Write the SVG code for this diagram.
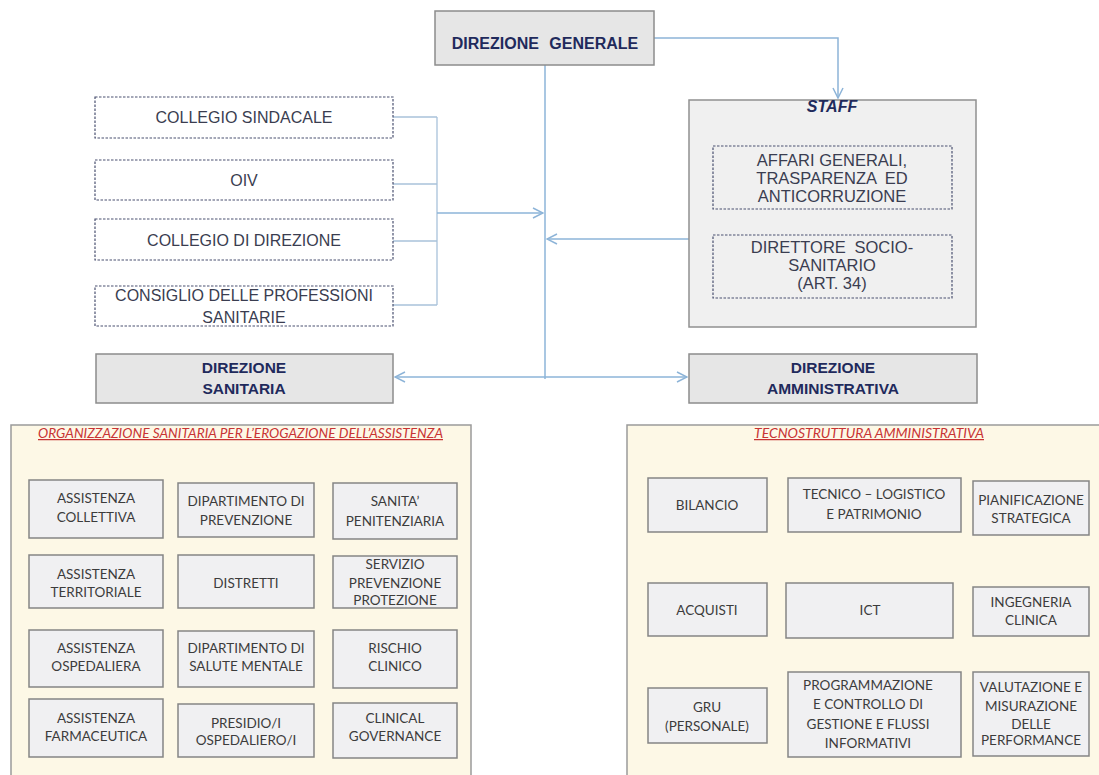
<svg xmlns="http://www.w3.org/2000/svg" width="1099" height="775" viewBox="0 0 1099 775">
<style>
.top{fill:#e6e6e6;stroke:#8c8c8c;stroke-width:1.5}
.ttl{font-family:"Liberation Sans",Arial,sans-serif;font-weight:bold;fill:#1f2a5c;text-anchor:middle}
.dash{fill:#ffffff;stroke:#4a5070;stroke-width:1.2;stroke-dasharray:2.5 1.5}
.dashg{fill:#f0f0f0;stroke:#4a5070;stroke-width:1.2;stroke-dasharray:2.5 1.5}
.lt{font-family:"Liberation Sans",Arial,sans-serif;font-size:16px;fill:#3a3d50;text-anchor:middle}
.st{font-family:"Liberation Sans",Arial,sans-serif;font-size:16.5px;fill:#3a3d50;text-anchor:middle}
.panel{fill:#fdf8e6;stroke:#9a9a9a;stroke-width:1.5}
.ptitle{font-family:Lato,"Liberation Sans",sans-serif;font-style:italic;font-size:12.5px;fill:#c83434;text-decoration:underline}
.bx{fill:#f0f0f2;stroke:#858585;stroke-width:1.5}
.bt{font-family:Lato,"Liberation Sans",sans-serif;font-size:13.5px;fill:#3c3c3c;text-anchor:middle}
.con{fill:none;stroke:#8db4d8;stroke-width:1.5}
.con2{fill:none;stroke:#a9c2da;stroke-width:1.3}
</style>
<defs>
<marker id="arr" viewBox="0 0 12 12" refX="11" refY="6" markerWidth="12" markerHeight="12" markerUnits="userSpaceOnUse" orient="auto-start-reverse">
<path d="M1,1 L11,6 L1,11" fill="none" stroke="#8db4d8" stroke-width="1.5"/>
</marker>
</defs>
<rect width="1099" height="775" fill="#ffffff"/>

<g id="connectors">
<path class="con" d="M545,65 V379"/>
<path class="con" d="M654,38 H838 V98" marker-end="url(#arr)"/>
<path class="con2" d="M393,117 H437 M393,184 H437 M393,241 H437 M393,305 H437 M437,117 V305"/>
<path class="con" d="M437,213 H543" marker-end="url(#arr)"/>
<path class="con" d="M689,239 H547" marker-end="url(#arr)"/>
<path class="con" d="M395,377 H687" marker-start="url(#arr)" marker-end="url(#arr)"/>
</g>

<g id="direzione-generale">
<rect class="top" x="435" y="11" width="219" height="54"/>
<text class="ttl" x="545" y="49" font-size="16" word-spacing="6">DIREZIONE GENERALE</text>
</g>

<g id="collegio-sindacale">
<rect class="dash" x="95" y="97" width="298" height="41"/>
<text class="lt" x="244" y="123">COLLEGIO SINDACALE</text>
</g>
<g id="oiv">
<rect class="dash" x="95" y="160" width="298" height="40"/>
<text class="lt" x="244" y="186">OIV</text>
</g>
<g id="collegio-direzione">
<rect class="dash" x="95" y="219" width="298" height="41"/>
<text class="lt" x="244" y="246">COLLEGIO DI DIREZIONE</text>
</g>
<g id="consiglio">
<rect class="dash" x="95" y="286" width="298" height="40"/>
<text class="lt" x="244" y="301">CONSIGLIO DELLE PROFESSIONI</text>
<text class="lt" x="244" y="323">SANITARIE</text>
</g>

<g id="staff">
<rect x="689" y="100" width="287" height="227" fill="#f0f0f0" stroke="#909090" stroke-width="1.5"/>
<text class="ttl" x="832" y="112" font-size="16" font-style="italic">STAFF</text>
</g>
<g id="affari-generali">
<rect class="dashg" x="713" y="146" width="239" height="63"/>
<text class="st" x="832" y="166">AFFARI GENERALI,</text>
<text class="st" x="832" y="184" word-spacing="4">TRASPARENZA ED</text>
<text class="st" x="832" y="202">ANTICORRUZIONE</text>
</g>
<g id="direttore-socio-sanitario">
<rect class="dashg" x="713" y="235" width="239" height="63"/>
<text class="st" x="832" y="253" word-spacing="4">DIRETTORE SOCIO-</text>
<text class="st" x="832" y="271">SANITARIO</text>
<text class="st" x="832" y="289">(ART. 34)</text>
</g>

<g id="direzione-sanitaria">
<rect class="top" x="96" y="354" width="297" height="49" fill="#e4e4e4"/>
<text class="ttl" x="244" y="373" font-size="15.5">DIREZIONE</text>
<text class="ttl" x="244" y="394" font-size="15.5">SANITARIA</text>
</g>
<g id="direzione-amministrativa">
<rect class="top" x="689" y="354" width="288" height="49" fill="#e4e4e4"/>
<text class="ttl" x="833" y="373" font-size="15.5">DIREZIONE</text>
<text class="ttl" x="833" y="394" font-size="15.5">AMMINISTRATIVA</text>
</g>

<g id="organizzazione-sanitaria">
<rect class="panel" x="11" y="425" width="460" height="355"/>
<text class="ptitle" x="38" y="438" textLength="405" lengthAdjust="spacingAndGlyphs">ORGANIZZAZIONE SANITARIA PER L’EROGAZIONE DELL’ASSISTENZA</text>
</g>
<g id="assistenza-collettiva"><rect class="bx" x="29" y="480" width="134" height="58"/><text class="bt" x="96" y="503">ASSISTENZA</text><text class="bt" x="96" y="522">COLLETTIVA</text></g>
<g id="dip-prevenzione"><rect class="bx" x="178" y="483" width="136" height="54"/><text class="bt" x="246" y="506">DIPARTIMENTO DI</text><text class="bt" x="246" y="525">PREVENZIONE</text></g>
<g id="sanita-penitenziaria"><rect class="bx" x="333" y="483" width="124" height="56"/><text class="bt" x="395" y="506">SANITA’</text><text class="bt" x="395" y="526">PENITENZIARIA</text></g>

<g id="assistenza-territoriale"><rect class="bx" x="29" y="555" width="134" height="53"/><text class="bt" x="96" y="579">ASSISTENZA</text><text class="bt" x="96" y="597">TERRITORIALE</text></g>
<g id="distretti"><rect class="bx" x="178" y="555" width="136" height="53"/><text class="bt" x="246" y="588">DISTRETTI</text></g>
<g id="servizio-prevenzione"><rect class="bx" x="333" y="556" width="124" height="52"/><text class="bt" x="395" y="569">SERVIZIO</text><text class="bt" x="395" y="588">PREVENZIONE</text><text class="bt" x="395" y="605">PROTEZIONE</text></g>

<g id="assistenza-ospedaliera"><rect class="bx" x="29" y="630" width="134" height="57"/><text class="bt" x="96" y="653">ASSISTENZA</text><text class="bt" x="96" y="671">OSPEDALIERA</text></g>
<g id="dip-salute-mentale"><rect class="bx" x="178" y="631" width="136" height="56"/><text class="bt" x="246" y="653">DIPARTIMENTO DI</text><text class="bt" x="246" y="671">SALUTE MENTALE</text></g>
<g id="rischio-clinico"><rect class="bx" x="333" y="630" width="124" height="58"/><text class="bt" x="395" y="653">RISCHIO</text><text class="bt" x="395" y="671">CLINICO</text></g>

<g id="assistenza-farmaceutica"><rect class="bx" x="29" y="699" width="134" height="58"/><text class="bt" x="96" y="723">ASSISTENZA</text><text class="bt" x="96" y="741">FARMACEUTICA</text></g>
<g id="presidio-ospedaliero"><rect class="bx" x="178" y="704" width="136" height="53"/><text class="bt" x="246" y="728">PRESIDIO/I</text><text class="bt" x="246" y="745">OSPEDALIERO/I</text></g>
<g id="clinical-governance"><rect class="bx" x="333" y="703" width="124" height="55"/><text class="bt" x="395" y="723">CLINICAL</text><text class="bt" x="395" y="741">GOVERNANCE</text></g>

<g id="tecnostruttura">
<rect class="panel" x="627" y="425" width="475" height="355"/>
<text class="ptitle" x="754" y="438" textLength="230" lengthAdjust="spacingAndGlyphs">TECNOSTRUTTURA AMMINISTRATIVA</text>
</g>
<g id="bilancio"><rect class="bx" x="648" y="478" width="119" height="54"/><text class="bt" x="707" y="510">BILANCIO</text></g>
<g id="tecnico-logistico"><rect class="bx" x="788" y="478" width="173" height="54"/><text class="bt" x="874" y="499">TECNICO – LOGISTICO</text><text class="bt" x="874" y="519">E PATRIMONIO</text></g>
<g id="pianificazione"><rect class="bx" x="973" y="481" width="116" height="54"/><text class="bt" x="1031" y="505">PIANIFICAZIONE</text><text class="bt" x="1031" y="523">STRATEGICA</text></g>

<g id="acquisti"><rect class="bx" x="648" y="583" width="119" height="53"/><text class="bt" x="707" y="615">ACQUISTI</text></g>
<g id="ict"><rect class="bx" x="786" y="583" width="167" height="55"/><text class="bt" x="870" y="615">ICT</text></g>
<g id="ingegneria-clinica"><rect class="bx" x="973" y="587" width="116" height="49"/><text class="bt" x="1031" y="607">INGEGNERIA</text><text class="bt" x="1031" y="625">CLINICA</text></g>

<g id="gru"><rect class="bx" x="648" y="688" width="119" height="55"/><text class="bt" x="707" y="712">GRU</text><text class="bt" x="707" y="731">(PERSONALE)</text></g>
<g id="programmazione"><rect class="bx" x="788" y="672" width="173" height="85"/><text class="bt" x="868" y="690">PROGRAMMAZIONE</text><text class="bt" x="868" y="709">E CONTROLLO DI</text><text class="bt" x="868" y="729">GESTIONE E FLUSSI</text><text class="bt" x="868" y="748">INFORMATIVI</text></g>
<g id="valutazione"><rect class="bx" x="973" y="672" width="116" height="84"/><text class="bt" x="1031" y="692">VALUTAZIONE E</text><text class="bt" x="1031" y="711">MISURAZIONE</text><text class="bt" x="1031" y="729">DELLE</text><text class="bt" x="1031" y="745">PERFORMANCE</text></g>
</svg>
